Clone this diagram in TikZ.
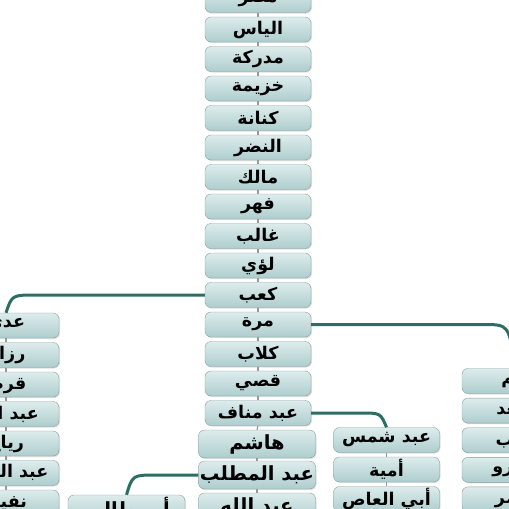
\documentclass[tikz,border=0pt]{standalone}
\usepackage{fontspec}
\newfontfamily\arabicfont[Script=Arabic]{DejaVu Sans}
\TeXXeTstate=1
\usetikzlibrary{positioning,calc,shadows}

\definecolor{linkgreen}{HTML}{2B6E63}
\definecolor{boxtop}{HTML}{DDECEC}
\definecolor{boxbot}{HTML}{AECDCD}
\definecolor{boxline}{HTML}{869E9E}

\newcommand{\ar}[1]{{\arabicfont\bfseries\beginR #1\endR}}

\tikzset{
  namebox/.style={draw=boxline,rounded corners=6pt,top color=boxtop,bottom color=boxbot,
    minimum width=106pt,minimum height=25pt,inner sep=0pt,font=\fontsize{17.5}{17.5}\selectfont,
    drop shadow={opacity=0.25,shadow xshift=1pt,shadow yshift=-1pt}},
  bigbox/.style={namebox,minimum width=117pt,minimum height=28pt,font=\fontsize{19.5}{19.5}\selectfont},
  link/.style={draw=linkgreen,line width=3pt},
  tick/.style={draw=gray!80,line width=1.2pt},
}

\begin{document}
\begin{tikzpicture}[x=1pt,y=-1pt]
\useasboundingbox (0,0) rectangle (509,509);
\clip (0,0) rectangle (509,509);

% main line
\foreach \i/\name in {0/مضر,1/الياس,2/مدركة,3/خزيمة,4/كنانة,5/النضر,6/مالك,7/فهر,8/غالب,9/لؤي,10/كعب,11/مرة,12/كلاب,13/قصي,14/عبد مناف}{
  \node[namebox] (c\i) at (258,{29.5*\i}) {\ar{\name}};
}
\node[bigbox] (c15) at (257,444) {\ar{هاشم}};
\node[bigbox] (c16) at (257,475) {\ar{عبد المطلب}};
\node[bigbox] (c17) at (257,507) {\ar{عبد الله}};

% side branches
\foreach \i/\name in {11/عدي,12/رزاح,13/قرط,14/عبد الله,15/رياح,16/عبد العزى,17/نفيل}{
  \node[namebox] (l\i) at (6,{29.5*\i+1}) {\ar{\name}};
}
\foreach \i/\name in {0/تيم,1/سعد,2/كعب,3/عمرو,4/عامر}{
  \node[namebox] (r\i) at (515,{381+29.6*\i}) {\ar{\name}};
}
\foreach \i/\name in {0/عبد شمس,1/أمية,2/أبي العاص}{
  \node[namebox] (s\i) at (386.5,{440+29.5*\i}) {\ar{\name}};
}
\node[bigbox] (a0) at (126.5,509) {\ar{أبو طالب}};

% small joints between boxes
\foreach \i [count=\j from 1] in {0,...,16}{
  \draw[tick] (c\i.south) -- (c\j.north);
}
\foreach \i [count=\j from 12] in {11,...,16}{
  \draw[tick] (l\i.south) -- (l\j.north);
}
\foreach \i [count=\j from 1] in {0,...,3}{
  \draw[tick] (r\i.south) -- (r\j.north);
}
\foreach \i [count=\j from 1] in {0,1}{
  \draw[tick] (s\i.south) -- (s\j.north);
}

% branch lines
\coordinate (lk) at (c10.west -| l11.north);
\coordinate (rk) at (c11.east -| r0.north);
\coordinate (sk) at (c14.east -| s0.north);
\coordinate (ak) at (c16.west -| a0.north);
\draw[link] (c10.west) -- ([xshift=30pt]lk) .. controls ([xshift=6pt]lk) .. (l11.north);
\draw[link] (c11.east) -- ([xshift=-32pt]rk) .. controls ([xshift=-6pt]rk) .. (r0.north);
\draw[link] (c14.east) -- ([xshift=-26pt]sk) .. controls ([xshift=-6pt]sk) .. (s0.north);
\draw[link] (c16.west) -- ([xshift=30pt]ak) .. controls ([xshift=6pt]ak) .. (a0.north);
\end{tikzpicture}
\end{document}
